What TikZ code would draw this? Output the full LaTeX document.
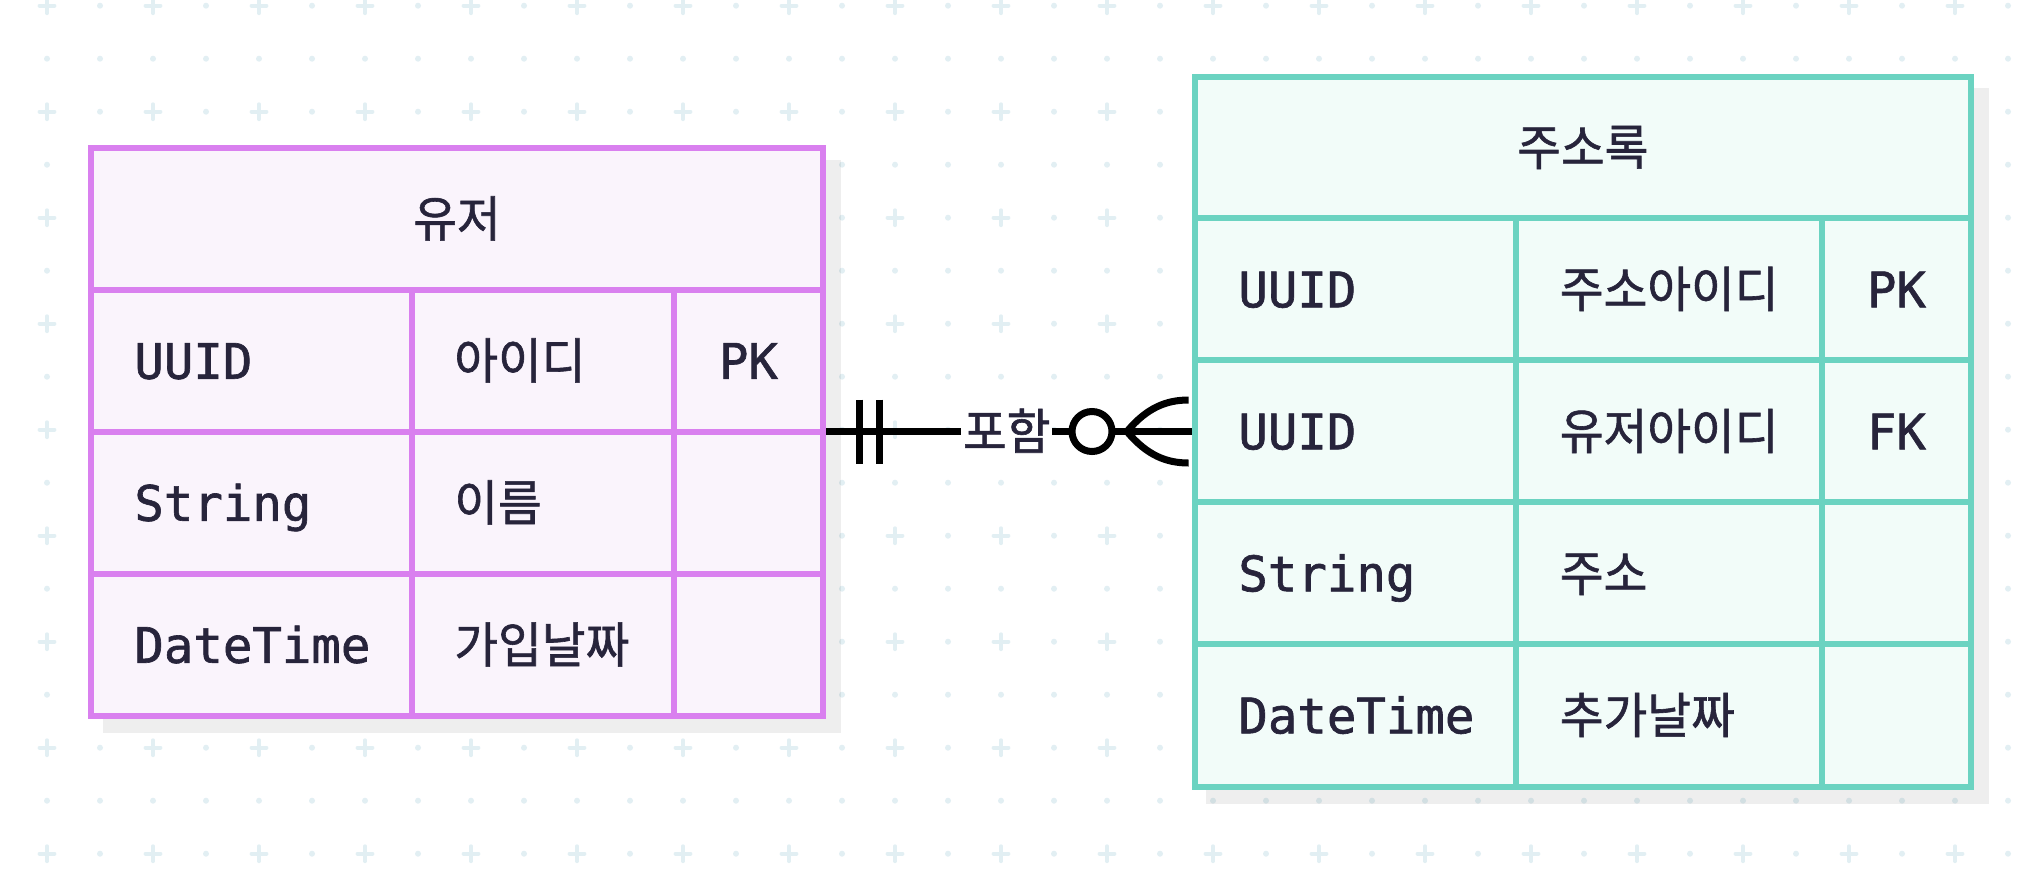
\documentclass[tikz,border=0pt]{standalone}
\usepackage{fontspec}
\newfontfamily\kr{Noto Sans CJK KR}[FakeStretch=0.97,FakeBold=1.2]
\newfontfamily\mono{DejaVu Sans Mono}[FakeBold=1.3]
\usetikzlibrary{calc}
\definecolor{pinkB}{HTML}{D980EF}
\definecolor{pinkF}{HTML}{FAF4FC}
\definecolor{tealB}{HTML}{6BD3C1}
\definecolor{tealF}{HTML}{F2FCF9}
\definecolor{txt}{HTML}{27243B}
\definecolor{dotc}{HTML}{E2EFF3}
\begin{document}
\begin{tikzpicture}[x=0.5pt,y=-0.5pt,
  tblL/.style={draw=pinkB, fill=pinkF, line width=3pt, rectangle, inner sep=0pt, minimum width=366pt, minimum height=284pt},
  tblR/.style={draw=tealB, fill=tealF, line width=3pt, rectangle, inner sep=0pt, minimum width=388.2pt, minimum height=355pt},
  gridL/.style={draw=pinkB, line width=3pt},
  gridR/.style={draw=tealB, line width=3pt},
  kt/.style={font=\kr\fontsize{24.5pt}{29pt}\selectfont, text=txt, inner sep=0pt},
  mt/.style={font=\mono\fontsize{24.5pt}{29pt}\selectfont, text=txt, inner sep=0pt},
  rel/.style={draw=black, line width=3.5pt},
  crossst/.style={draw=dotc, line width=1.9pt, line cap=round},
  shadowst/.style={fill=black, opacity=0.065}
]
% background
\clip (0,0) rectangle (2036,874);
\fill[white] (0,0) rectangle (2036,874);
\foreach \k in {0,2,...,16}{
  \foreach \j in {0,...,18}{
    \draw[crossst] ({47+106*\j-7.5},{5.7+53*\k}) -- ++(15,0);
    \draw[crossst] ({47+106*\j},{5.7+53*\k-7.5}) -- ++(0,15);
    \fill[dotc] ({100+106*\j},{5.7+53*\k}) circle (1.5pt);
  }
}
\foreach \k in {1,3,...,15}{
  \foreach \j in {0,...,37}{
    \fill[dotc] ({47+53*\j},{5.7+53*\k}) circle (1.5pt);
  }
}
% shadows
\fill[shadowst] (103,160) rectangle (841,733);
\fill[shadowst] (1206,88) rectangle (1989,804);
% left table
\node[tblL] (user) at (457,431.5) {};
\draw[gridL] (91,289.5) -- (823,289.5);
\draw[gridL] (91,431.5) -- (823,431.5);
\draw[gridL] (91,573.5) -- (823,573.5);
\draw[gridL] (412,289.5) -- (412,715.5);
\draw[gridL] (674,289.5) -- (674,715.5);
\node[kt, anchor=base] (uH) at (457,236.8) {유저};
\node[mt, anchor=base west] (u11) at (134,378.8) {UUID};
\node[kt, anchor=base west] (u12) at (454,378.8) {아이디};
\node[mt, anchor=base] (u13) at (748.5,378.8) {PK};
\node[mt, anchor=base west] (u21) at (134,520.8) {String};
\node[kt, anchor=base west] (u22) at (454,520.8) {이름};
\node[mt, anchor=base west] (u31) at (134,662.8) {DateTime};
\node[kt, anchor=base west] (u32) at (454,662.8) {가입날짜};
% right table
\node[tblR] (addr) at (1582.8,431.5) {};
\draw[gridR] (1194.6,218) -- (1971,218);
\draw[gridR] (1194.6,360) -- (1971,360);
\draw[gridR] (1194.6,502) -- (1971,502);
\draw[gridR] (1194.6,644) -- (1971,644);
\draw[gridR] (1516,218) -- (1516,786.5);
\draw[gridR] (1822,218) -- (1822,786.5);
\node[kt, anchor=base] (aH) at (1582.8,165.3) {주소록};
\node[mt, anchor=base west] (a11) at (1238,307.3) {UUID};
\node[kt, anchor=base west] (a12) at (1559.5,307.3) {주소아이디};
\node[mt, anchor=base] (a13) at (1896.5,307.3) {PK};
\node[mt, anchor=base west] (a21) at (1238,449.3) {UUID};
\node[kt, anchor=base west] (a22) at (1559.5,449.3) {유저아이디};
\node[mt, anchor=base] (a23) at (1896.5,449.3) {FK};
\node[mt, anchor=base west] (a31) at (1238,591.3) {String};
\node[kt, anchor=base west] (a32) at (1559.5,591.3) {주소};
\node[mt, anchor=base west] (a41) at (1238,733.3) {DateTime};
\node[kt, anchor=base west] (a42) at (1559.5,733.3) {추가날짜};
% relationship
\draw[rel] (user.east) -- (addr.west);
\draw[rel] ($(user.east)+(33,-32)$) -- ($(user.east)+(33,32)$);
\draw[rel] ($(user.east)+(53.5,-32)$) -- ($(user.east)+(53.5,32)$);
\coordinate (v) at ($(addr.west)+(-64.6,0)$);
\draw[rel] (v) .. controls ($(v)+(20,-24)$) and ($(addr.west)+(-25,-31.5)$) .. ($(addr.west)+(-3,-31.5)$);
\draw[rel] (v) .. controls ($(v)+(20,24)$) and ($(addr.west)+(-25,31.5)$) .. ($(addr.west)+(-3,31.5)$);
\node[circle, draw=black, line width=3.5pt, fill=white, minimum size=20pt, inner sep=0pt] (zc) at ($(addr.west)+(-99.6,0)$) {};
\node[kt, anchor=base, fill=white, inner sep=1pt] (lbl) at (1006.7,449.5) {포함};
\end{tikzpicture}
\end{document}
